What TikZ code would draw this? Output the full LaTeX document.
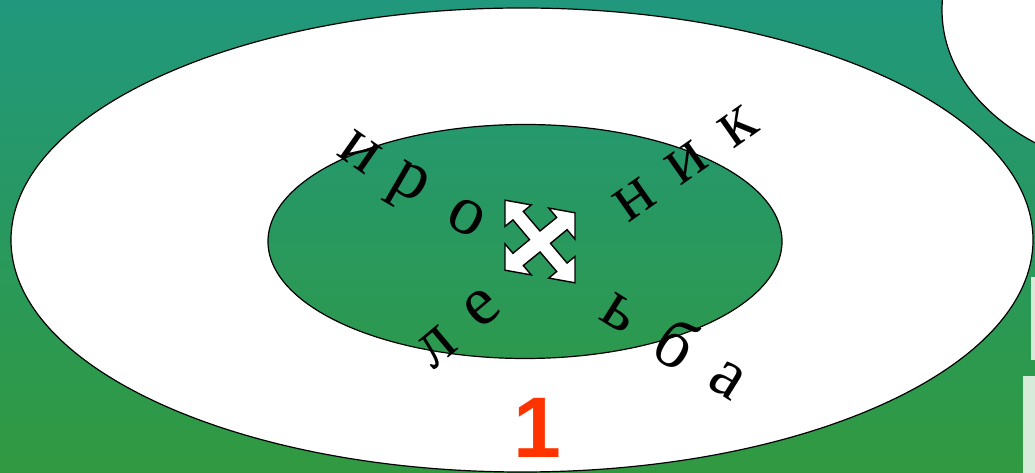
\documentclass[tikz,border=0pt]{standalone}
\usepackage{fontspec}
\setmainfont{Liberation Serif}
\newfontfamily\numfont{Liberation Sans}
\usepackage{xcolor}
\usepackage{tikz}
\usetikzlibrary{positioning}

\definecolor{bgtop}{RGB}{33,152,125}
\definecolor{bgbottom}{RGB}{48,153,64}
\definecolor{intop}{RGB}{37,152,109}
\definecolor{inbottom}{RGB}{45,153,78}
\definecolor{stripgreen}{RGB}{214,235,217}
\definecolor{numred}{RGB}{255,51,0}

\begin{document}
\begin{tikzpicture}[
  x=1pt, y=1pt,
  letter/.style={inner sep=0pt, font=\fontsize{70}{70}\selectfont},
  ring/.style={draw=black, line width=1.2pt},
  number/.style={inner sep=0pt, text=numred, font=\numfont\bfseries\fontsize{86}{86}\selectfont}
]
  \useasboundingbox (0,0) rectangle (1035,473);
  \begin{scope}
    \clip (0,0) rectangle (1035,473);
    \shade[top color=bgtop, bottom color=bgbottom] (0,0) rectangle (1035,473);
    \fill[stripgreen] (1031,113) rectangle (1035,196);
    \fill[stripgreen] (1023,0) rectangle (1035,97);
    \filldraw[ring, fill=white] (1160,463) ellipse [x radius=218pt, y radius=162pt];
    \filldraw[ring, fill=white] (522,233) ellipse [x radius=511pt, y radius=232pt];
    \shadedraw[ring, top color=intop, bottom color=inbottom] (525,231.5) ellipse [x radius=257pt, y radius=117pt];
  \end{scope}

  % move icon
  \begin{scope}[shift={(540,231.5)}, yslant=-0.18, scale=35]
    \filldraw[fill=white, draw=black, line width=1.4pt, line join=miter]
      (-1,1) -- (-0.25,1) -- (-0.477,0.773) -- (0,0.3) -- (0.477,0.773) -- (0.25,1)
      -- (1,1) -- (1,0.25) -- (0.773,0.477) -- (0.3,0) -- (0.773,-0.477) -- (1,-0.25)
      -- (1,-1) -- (0.25,-1) -- (0.477,-0.773) -- (0,-0.3) -- (-0.477,-0.773) -- (-0.25,-1)
      -- (-1,-1) -- (-1,-0.25) -- (-0.773,-0.477) -- (-0.3,0) -- (-0.773,0.477) -- (-1,0.25) -- cycle;
  \end{scope}

  \node[letter, rotate=-35] (i1) at (360,321) {и};
  \node[letter, rotate=-30] (r) at (407,286) {р};
  \node[letter, rotate=-28] (o) at (467,256) {о};
  \node[letter, rotate=35] (n) at (635,273) {н};
  \node[letter, rotate=35] (i2) at (687,310) {и};
  \node[letter, rotate=35] (k) at (738,346) {к};
  \node[letter, rotate=40] (l) at (437,126) {л};
  \node[letter, rotate=40] (e) at (482,165) {е};
  \node[letter, rotate=-32] (soft) at (620,160) {ь};
  \node[letter, rotate=-32] (b) at (677,130) {б};
  \node[letter, rotate=-32] (a) at (727,93) {а};
  \node[number] (num) at (537,45) {1};
\end{tikzpicture}
\end{document}
